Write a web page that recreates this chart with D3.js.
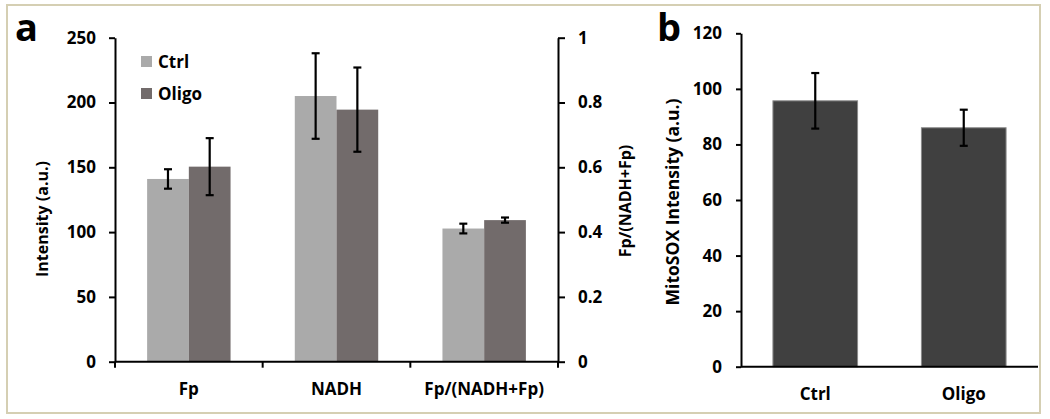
<!DOCTYPE html>
<meta charset="utf-8">
<script src="https://d3js.org/d3.v7.min.js"></script>
<style>
  body { margin: 0; background: #fff; }
  svg text { font-family: "Open Sans", sans-serif; font-weight: 700; fill: #000; }
</style>
<div id="chart"></div>
<script>

// panel a data
var categoriesA = ["Fp", "NADH", "Fp/(NADH+Fp)"];
var seriesA = ["Ctrl", "Oligo"];
var ctrlMean = [141, 205, 0.411];
var ctrlErr = [7.5, 33, 0.015];
var oligoMean = [150.5, 194.5, 0.437];
var oligoErr = [22, 32.5, 0.008];
var leftTicks = [0, 50, 100, 150, 200, 250];
var rightTicks = [0, 0.2, 0.4, 0.6, 0.8, 1];

// panel b data
var categoriesB = ["Ctrl", "Oligo"];
var mitoMean = [95.7, 86];
var mitoErr = [10, 6.5];
var bTicks = [0, 20, 40, 60, 80, 100, 120];

var colors = {Ctrl: "#aaaaaa", Oligo: "#726b6b"};
var fs = "17px";

var svg = d3.select("#chart").append("svg")
    .attr("width", 1050)
    .attr("height", 419);

// frame
svg.append("rect")
    .attr("x", 7).attr("y", 5)
    .attr("width", 1033).attr("height", 408)
    .attr("fill", "none")
    .attr("stroke", "#d5cfb3")
    .attr("stroke-width", 2);

// ---------- panel a ----------
var ya = d3.scaleLinear().domain([0, 250]).range([361.7, 37.7]);
var yr = d3.scaleLinear().domain([0, 1]).range([361.7, 37.7]);
var xa = d3.scaleBand().domain(categoriesA).range([115, 558]);
var xs = d3.scaleBand().domain(seriesA).range([0, xa.bandwidth()]).paddingOuter(0.77);

var rowsA = categoriesA.map(function(c, i) {
  return [
    {cat: c, s: "Ctrl", v: ctrlMean[i], e: ctrlErr[i], y: i == 2 ? yr : ya},
    {cat: c, s: "Oligo", v: oligoMean[i], e: oligoErr[i], y: i == 2 ? yr : ya}
  ];
}).flat();

svg.selectAll("rect.barA")
    .data(rowsA)
    .enter().append("rect")
    .attr("class", "barA")
    .attr("x", function(d) { return xa(d.cat) + xs(d.s); })
    .attr("width", xs.bandwidth())
    .attr("y", function(d) { return d.y(d.v); })
    .attr("height", function(d) { return d.y(0) - d.y(d.v); })
    .attr("fill", function(d) { return colors[d.s]; });

function errorBars(g, data, xf) {
  var eb = g.selectAll("g.eb").data(data).enter().append("g")
      .attr("stroke", "#000").attr("stroke-width", 2.2);
  eb.append("line")
      .attr("x1", xf).attr("x2", xf)
      .attr("y1", function(d) { return d.y(d.v + d.e); })
      .attr("y2", function(d) { return d.y(d.v - d.e); });
  eb.append("line")
      .attr("x1", function(d) { return xf(d) - 4; }).attr("x2", function(d) { return xf(d) + 4; })
      .attr("y1", function(d) { return d.y(d.v + d.e); })
      .attr("y2", function(d) { return d.y(d.v + d.e); });
  eb.append("line")
      .attr("x1", function(d) { return xf(d) - 4; }).attr("x2", function(d) { return xf(d) + 4; })
      .attr("y1", function(d) { return d.y(d.v - d.e); })
      .attr("y2", function(d) { return d.y(d.v - d.e); });
}
errorBars(svg.append("g"), rowsA, function(d) { return xa(d.cat) + xs(d.s) + xs.bandwidth() / 2; });

// left axis
var axL = svg.append("g")
    .attr("transform", "translate(115,0)")
    .call(d3.axisLeft(ya).tickValues(leftTicks).tickSize(6).tickSizeOuter(0).tickPadding(13));
// right axis
var axR = svg.append("g")
    .attr("transform", "translate(558,0)")
    .call(d3.axisRight(yr).tickValues(rightTicks).tickFormat(d3.format("~g")).tickSize(7).tickSizeOuter(0).tickPadding(13));

// x axis a
var axX = svg.append("g").attr("transform", "translate(0,361.7)");
axX.append("line").attr("x1", 115).attr("x2", 558).attr("stroke", "#000").attr("stroke-width", 2);
axX.selectAll("line.t").data(categoriesA.map(function(c) { return xa(c); }).concat([xa.range()[1]]))
    .enter().append("line")
    .attr("x1", function(d) { return d; }).attr("x2", function(d) { return d; })
    .attr("y1", 0).attr("y2", 6)
    .attr("stroke", "#000").attr("stroke-width", 2);
axX.selectAll("text").data(categoriesA).enter().append("text")
    .attr("x", function(d) { return xa(d) + xa.bandwidth() / 2; })
    .attr("y", 33)
    .attr("text-anchor", "middle")
    .style("font-size", fs)
    .text(function(d) { return d; });

[axL, axR].forEach(function(a) {
  a.selectAll("path, line").attr("stroke", "#000").attr("stroke-width", 2);
  a.selectAll("text").style("font-size", fs).style("font-family", "'Open Sans', sans-serif").attr("fill", "#000");
});

svg.append("text")
    .attr("transform", "translate(48,219) rotate(-90)")
    .attr("text-anchor", "middle")
    .style("font-size", "16px")
    .text("Intensity (a.u.)");

svg.append("text")
    .attr("transform", "translate(631,201) rotate(-90)")
    .attr("text-anchor", "middle")
    .style("font-size", "16px")
    .text("Fp/(NADH+Fp)");

// legend
var leg = svg.selectAll("g.leg").data(seriesA).enter().append("g")
    .attr("transform", function(d, i) { return "translate(141," + (56 + i * 32) + ")"; });
leg.append("rect").attr("width", 11).attr("height", 11)
    .attr("fill", function(d) { return colors[d]; });
leg.append("text").attr("x", 17).attr("y", 11.5)
    .style("font-size", "17px")
    .text(function(d) { return d; });

svg.append("text").attr("x", 15).attr("y", 41)
    .style("font-size", "38px")
    .text("a");

// ---------- panel b ----------
var yb = d3.scaleLinear().domain([0, 120]).range([366.7, 33.3]);
var xb = d3.scaleBand().domain(categoriesB).range([741, 1038]).paddingInner(0.43).paddingOuter(0.215);

var rowsB = categoriesB.map(function(c, i) { return {cat: c, v: mitoMean[i], e: mitoErr[i], y: yb}; });

svg.selectAll("rect.barB")
    .data(rowsB)
    .enter().append("rect")
    .attr("class", "barB")
    .attr("x", function(d) { return xb(d.cat); })
    .attr("width", xb.bandwidth())
    .attr("y", function(d) { return yb(d.v); })
    .attr("height", function(d) { return yb(0) - yb(d.v); })
    .attr("fill", "#404040")
    .attr("stroke", "#8a8a8a")
    .attr("stroke-width", 1);

errorBars(svg.append("g"), rowsB, function(d) { return xb(d.cat) + xb.bandwidth() / 2; });

var axB = svg.append("g")
    .attr("transform", "translate(741,0)")
    .call(d3.axisLeft(yb).tickValues(bTicks).tickSize(5).tickSizeOuter(0).tickPadding(14));
axB.selectAll("path, line").attr("stroke", "#000").attr("stroke-width", 2);
axB.selectAll("text").style("font-size", fs).style("font-family", "'Open Sans', sans-serif").attr("fill", "#000");

svg.append("line")
    .attr("x1", 741).attr("x2", 1038)
    .attr("y1", yb(0)).attr("y2", yb(0))
    .attr("stroke", "#000").attr("stroke-width", 2);

svg.selectAll("text.xb").data(categoriesB).enter().append("text")
    .attr("class", "xb")
    .attr("x", function(d) { return xb(d) + xb.bandwidth() / 2; })
    .attr("y", 400)
    .attr("text-anchor", "middle")
    .style("font-size", fs)
    .text(function(d) { return d; });

svg.append("text")
    .attr("transform", "translate(679,202) rotate(-90)")
    .attr("text-anchor", "middle")
    .style("font-size", "17.5px")
    .text("MitoSOX Intensity (a.u.)");

svg.append("text").attr("x", 657).attr("y", 41)
    .style("font-size", "38px")
    .text("b");

</script>
